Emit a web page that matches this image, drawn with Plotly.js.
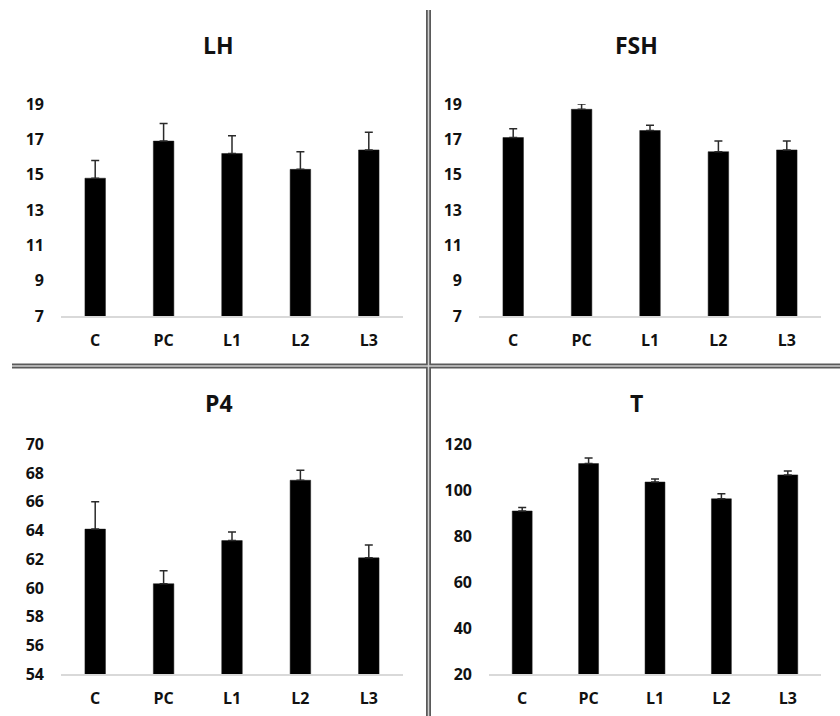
<!DOCTYPE html>
<html>
<head>
<meta charset="utf-8">
<script src="https://cdn.plot.ly/plotly-3.0.1.min.js"></script>
<style>html,body{margin:0;padding:0;background:#fff;}#chart{width:840px;height:716px;}</style>
</head>
<body>
<div id="chart"></div>
<script>
const categories = ['C', 'PC', 'L1', 'L2', 'L3'];
const lhMean = [14.8, 16.9, 16.2, 15.3, 16.4];
const lhErr = [1.0, 1.0, 1.0, 1.0, 1.0];
const fshMean = [17.1, 18.7, 17.5, 16.3, 16.4];
const fshErr = [0.5, 0.3, 0.3, 0.6, 0.5];
const p4Mean = [64.1, 60.3, 63.3, 67.5, 62.1];
const p4Err = [1.9, 0.9, 0.6, 0.7, 0.9];
const tMean = [91, 111.6, 103.6, 96.3, 106.7];
const tErr = [1.5, 2.4, 1.3, 2.2, 1.7];
const titles = ['LH', 'FSH', 'P4', 'T'];

const W = 840, H = 716;
const FONT = 'Open Sans, Liberation Sans, sans-serif';

function bar(y, err, xa, ya) {
  return {
    type: 'bar', x: categories, y: y, xaxis: xa, yaxis: ya,
    width: 0.3,
    marker: {color: '#000000', line: {color: '#1a1a1a', width: 0.5}},
    error_y: {type: 'data', symmetric: false, array: err,
      arrayminus: err.map(() => 0), color: '#2a2a2a', thickness: 1.5, width: 4},
    hoverinfo: 'none', showlegend: false
  };
}

const data = [
  bar(lhMean, lhErr, 'x', 'y'),
  bar(fshMean, fshErr, 'x2', 'y2'),
  bar(p4Mean, p4Err, 'x3', 'y3'),
  bar(tMean, tErr, 'x4', 'y4')
];

function px(a, b) { return [a / W, b / W]; }
function py(bottom, top) { return [1 - bottom / H, 1 - top / H]; }

const tickFont = {family: FONT, size: 16, color: '#111111', weight: 'bold'};
function xax(dom, anchor) {
  return {domain: dom, anchor: anchor, showline: true, linecolor: '#d9d9d9', linewidth: 1.5,
    ticks: '', showgrid: false, zeroline: false, tickfont: tickFont, ticklabelstandoff: 9,
    range: [-0.5, 4.5], fixedrange: true};
}
function yax(dom, anchor, range, dtick) {
  return {domain: dom, anchor: anchor, range: range, dtick: dtick, tick0: range[0],
    showline: false, showgrid: false, zeroline: false, ticks: '',
    tickfont: tickFont, ticklabelstandoff: 16, fixedrange: true};
}

const topY = py(316, 104), botY = py(674.3, 444.3);

const annotations = [
  [218.5, 45, titles[0]], [636.7, 45, titles[1]],
  [218.5, 402.7, titles[2]], [636.7, 402.7, titles[3]]
].map(([x, y, t]) => ({
  text: t, xref: 'paper', yref: 'paper', x: x / W, y: 1 - y / H,
  xanchor: 'center', yanchor: 'middle', showarrow: false,
  font: {family: FONT, size: 23, color: '#111111', weight: 'bold'}
}));

const vx = 428.5 / W, hy = 1 - 366 / H;
const shapes = [
  {type: 'line', xref: 'paper', yref: 'paper', x0: vx, x1: vx, y0: 0, y1: 1 - 10 / H, line: {color: '#5a5a5a', width: 5}},
  {type: 'line', xref: 'paper', yref: 'paper', x0: 12 / W, x1: 1, y0: hy, y1: hy, line: {color: '#5a5a5a', width: 5}},
  {type: 'line', xref: 'paper', yref: 'paper', x0: vx, x1: vx, y0: 0, y1: 1 - 10 / H, line: {color: '#d0d0d0', width: 1.5}},
  {type: 'line', xref: 'paper', yref: 'paper', x0: 12 / W, x1: 1, y0: hy, y1: hy, line: {color: '#d0d0d0', width: 1.5}}
];

const layout = {
  width: W, height: H,
  margin: {l: 0, r: 0, t: 0, b: 0},
  paper_bgcolor: '#ffffff', plot_bgcolor: 'rgba(0,0,0,0)',
  showlegend: false,
  xaxis: xax(px(61, 403), 'y'),
  yaxis: yax(topY, 'x', [7, 19], 2),
  xaxis2: xax(px(479, 821), 'y2'),
  yaxis2: yax(topY, 'x2', [7, 19], 2),
  xaxis3: xax(px(61, 403), 'y3'),
  yaxis3: yax(botY, 'x3', [54, 70], 2),
  xaxis4: xax(px(489, 821), 'y4'),
  yaxis4: yax(botY, 'x4', [20, 120], 20),
  annotations: annotations,
  shapes: shapes
};

Plotly.newPlot('chart', data, layout, {displayModeBar: false, staticPlot: true});
</script>
</body>
</html>
